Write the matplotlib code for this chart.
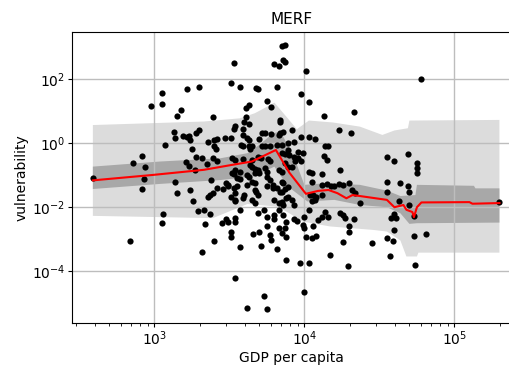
import numpy as np
import matplotlib
matplotlib.use("Agg")
import matplotlib.pyplot as plt

# log10 of GDP per capita and of vulnerability for each country
log_gdp = np.array([
    2.59, 2.84, 2.86, 2.92, 2.94, 2.93, 2.92, 2.98, 3.05, 3.05, 3.07, 3.06, 3.05,
    3.15, 3.18, 3.22, 3.13, 3.14, 3.19, 3.22, 3.23, 3.24, 3.28, 3.30, 3.25, 3.14,
    3.15, 3.24, 3.26, 3.29, 3.21, 3.23, 3.27, 3.28,
    3.30, 3.32, 3.33, 3.34, 3.32, 3.35, 3.39, 3.36, 3.40, 3.41, 3.39, 3.42, 3.47,
    3.51, 3.51, 3.53, 3.40, 3.42, 3.37, 3.36, 3.37, 3.39, 3.40, 3.45, 3.46, 3.49,
    3.51, 3.38, 3.48, 3.49, 3.42, 3.48, 3.49, 3.51, 3.51, 3.52, 3.52,
    3.57, 3.68, 3.69, 3.61, 3.61, 3.54, 3.53, 3.59, 3.60, 3.63, 3.63, 3.70, 3.62,
    3.63, 3.58, 3.59, 3.65, 3.59, 3.65, 3.72, 3.72, 3.71, 3.53, 3.55, 3.54, 3.54,
    3.59, 3.54, 3.54, 3.57, 3.57, 3.54, 3.62, 3.65, 3.67, 3.65, 3.67, 3.66, 3.69,
    3.70, 3.71, 3.62, 3.73, 3.73, 3.63, 3.64, 3.59, 3.54, 3.69, 3.54, 3.57, 3.53,
    3.64, 3.65, 3.67, 3.67, 3.69, 3.70, 3.55, 3.57, 3.62, 3.63, 3.54, 3.60, 3.67,
    3.68, 3.69, 3.74, 3.74,
    3.75, 3.78, 3.77, 3.78, 3.80, 3.83, 3.82, 3.84, 3.84, 3.84, 3.85, 3.87, 3.86,
    3.87, 3.92, 3.75, 3.75, 3.77, 3.78, 3.82, 3.80, 3.83, 3.85, 3.88, 3.88, 3.88,
    3.80, 3.83, 3.86, 3.88, 3.75, 3.79, 3.84, 3.76, 3.77, 3.74, 3.75, 3.75, 3.77,
    3.79, 3.80, 3.75, 3.82, 3.83, 3.86, 3.85, 3.89, 3.93, 3.85, 3.87, 3.89, 3.90,
    3.93, 3.96, 3.94, 3.96, 3.87, 3.89, 3.92, 3.83, 3.85, 3.85, 3.86, 3.82, 3.85,
    3.87, 3.89, 3.89, 3.92, 3.93, 3.85, 3.83, 3.86, 3.93, 3.95, 3.87,
    3.98, 4.03, 4.07, 4.14, 4.16, 3.98, 3.99, 4.13, 4.15, 4.03, 4.05, 4.05, 4.12,
    4.15, 4.18, 4.04, 4.06, 4.08, 4.12, 4.05, 4.07, 4.14, 4.12, 4.03, 4.00, 4.09,
    4.01, 3.98, 4.03, 4.13, 4.12, 3.97, 4.03, 4.00, 4.17, 4.00, 4.01, 4.05, 4.08,
    4.06, 3.99, 4.16,
    4.23, 4.31, 4.33, 4.24, 4.23, 4.26, 4.30, 4.32, 4.20, 4.34, 4.37, 4.24, 4.26,
    4.27, 4.33, 4.26, 4.29, 4.30, 4.30, 4.45, 4.57, 4.55, 4.59, 4.74, 4.73, 4.81,
    4.60, 4.58, 4.61, 4.60, 4.63, 4.70, 4.73, 4.55, 4.55, 4.64, 4.69, 4.70, 4.55,
    4.60, 4.69, 4.75, 4.75, 4.75, 4.78, 5.30,
])
log_vuln = np.array([
    -1.09, -3.07, -0.63, -0.39, -0.73, -1.13, -1.43, 1.17, 1.58, 1.23, -0.05, -2.22, -2.50,
    0.86, 1.04, 1.71, 0.36, 0.16, 0.23, 0.21, 0.23, 0.10, 0.33, 0.40, -0.19, -1.20,
    -1.54, -1.46, -1.82, -2.11, -0.60, -0.71, -0.83, -0.42,
    1.75, -0.45, -2.08, -2.53, -3.41, -0.65, 0.81, 0.05, -0.10, -0.19, -0.47, 0.13, 0.16,
    0.18, 1.88, 2.50, 0.10, -0.54, -2.22, -1.67, -1.61, -1.56, -3.07, -2.50, -1.44, -1.30,
    -1.67, -1.15, -1.25, -1.33, -1.41, -2.38, -2.45, -2.76, -2.94, -0.47, -0.94,
    1.77, 1.74, 1.70, 1.09, 0.81, 0.55, 0.44, 0.44, 0.65, 1.19, 0.59, 0.14, 0.16,
    0.10, -0.05, -0.10, -0.07, -0.50, -0.52, -0.10, 0.33, -0.47, -1.41, -1.35, -1.77, -1.82,
    -1.72, -2.34, -2.45, -3.23, -2.10, -4.22, -1.30, -1.20, -1.25, -1.77, -1.88, -2.84, -2.19,
    -2.79, -3.20, -5.14, -4.76, -2.10, -0.08, -0.19, 0.26, -0.52, -0.42, -0.83, -0.89, -0.96,
    -0.68, -0.73, -0.81, -0.92, -0.83, -0.94, -1.09, -1.13, -0.99, -1.04, -1.56, -1.61, -1.46,
    -1.51, -1.61, -0.08, 0.31,
    1.33, 1.13, -0.08, 0.28, 2.47, 2.43, 1.77, 0.73, 0.65, 0.33, 3.05, 3.07, 2.60,
    2.53, 0.42, -5.19, -2.58, -2.86, -3.02, -3.30, -2.38, -2.66, -2.81, -2.92, -3.65, -2.45,
    -1.77, -1.88, -1.93, -1.72, -1.35, -1.41, -1.51, -0.50, -0.57, -0.78, -0.89, -1.04, -1.15,
    -1.30, -2.24, -2.31, -0.05, 0.26, 0.36, -0.05, 0.00, 0.05, -0.29, -0.33, -0.21, -0.36,
    -0.42, -0.47, -0.57, -0.26, -0.63, -0.73, -0.75, -0.83, -0.89, -1.20, -1.25, -1.41, -1.51,
    -1.44, -1.38, -1.67, -1.77, -1.93, -1.85, -2.08, -2.24, -2.38, -2.42, -2.64,
    0.21, 0.21, 0.13, -0.10, -0.10, -0.57, -0.31, -0.40, -0.52, -0.89, -0.94, -1.20, -1.30,
    -1.27, -1.33, -1.61, -1.61, -1.67, -1.61, -1.82, -1.77, -2.14, -2.31, -2.08, -2.31, -2.40,
    2.25, 1.55, 1.30, 0.85, -0.96, -3.75, -3.73, -4.64, -3.50, -2.64, -2.92, -2.97, -2.90,
    -2.60, -2.55, -2.32,
    0.42, 0.31, 0.99, -0.83, -1.27, -1.30, -1.25, -1.46, -1.35, -1.56, -1.88, -2.19, -2.24,
    -2.34, -2.38, -3.08, -3.85, -2.60, -2.76, -3.13, -3.52, -2.97, -3.07, -3.80, -2.89, -2.83,
    -2.71, -2.34, -2.34, -2.21, -1.82, -1.93, -2.27, -1.20, -1.51, -1.25, -1.35, -1.51, -0.42,
    -0.54, -0.34, -0.63, -0.78, -0.92, 2.02, -1.85,
])

# MERF prediction (median) along GDP per capita
curve_log_gdp = np.array([2.59, 2.99, 3.33, 3.50, 3.65, 3.81, 3.90, 4.01, 4.09, 4.16,
                          4.22, 4.28, 4.32, 4.37, 4.55, 4.60, 4.66, 4.68, 4.72, 4.73,
                          4.75, 4.78, 5.10, 5.12, 5.30])
curve_log_vuln = np.array([-1.16, -0.99, -0.83, -0.69, -0.57, -0.21, -0.92, -1.58, -1.49, -1.46,
                           -1.56, -1.72, -1.62, -1.65, -1.77, -2.00, -1.93, -2.08, -2.15, -2.31,
                           -2.00, -1.85, -1.84, -1.89, -1.87])

# outer prediction interval
outer_up_x = np.array([2.59, 3.33, 3.57, 3.67, 3.73, 3.80, 3.88, 3.95, 4.03, 4.19,
                       4.37, 4.52, 4.60, 4.69, 4.70, 5.30])
outer_up_y = np.array([0.57, 0.68, 0.78, 0.94, 1.09, 1.27, 0.83, 0.44, 0.71, 0.65,
                       0.52, 0.26, 0.40, 0.47, 0.71, 0.73])
outer_lo_x = np.array([2.59, 3.39, 3.62, 3.82, 3.90, 3.99, 4.17, 4.46, 4.55, 4.64,
                       4.68, 4.75, 4.76, 5.30])
outer_lo_y = np.array([-2.27, -2.34, -1.90, -1.98, -2.19, -2.45, -2.60, -2.71, -2.76, -3.04,
                       -3.54, -3.54, -3.42, -3.42])

# inner prediction interval
inner_up_x = np.array([2.59, 3.04, 3.44, 3.62, 3.70, 3.79, 3.84, 3.93, 4.00, 4.14,
                       4.37, 4.55, 4.64, 4.74, 4.75, 5.13, 5.14, 5.30])
inner_up_y = np.array([-0.73, -0.57, -0.47, -0.31, -0.05, 0.31, 0.37, -0.42, -1.30, -1.25,
                       -1.30, -1.48, -1.65, -1.62, -1.30, -1.33, -1.41, -1.41])
inner_lo_x = np.array([2.59, 3.04, 3.44, 3.66, 3.80, 3.89, 4.02, 4.20, 4.37, 4.55,
                       4.64, 4.70, 4.75, 5.30])
inner_lo_y = np.array([-1.43, -1.27, -1.15, -1.04, -0.73, -1.35, -1.82, -1.77, -1.93, -2.00,
                       -2.19, -2.52, -2.50, -2.48])

gdp = 10 ** log_gdp
vuln = 10 ** log_vuln


def band(ax, up_x, up_y, lo_x, lo_y, color):
    xs = np.concatenate([up_x, lo_x[::-1]])
    ys = np.concatenate([up_y, lo_y[::-1]])
    ax.fill(10 ** xs, 10 ** ys, color=color, lw=0, zorder=1)


fig = plt.figure(figsize=(5.1, 3.69), dpi=100)
ax = fig.add_axes([0.1412, 0.1255, 0.8616, 0.787])
ax.set_xscale("log")
ax.set_yscale("log")

band(ax, outer_up_x, outer_up_y, outer_lo_x, outer_lo_y, "#dcdcdc")
band(ax, inner_up_x, inner_up_y, inner_lo_x, inner_lo_y, "#a8a8a8")

ax.scatter(gdp, vuln, s=20, color="black", zorder=2.5, linewidths=0)
ax.plot(10 ** curve_log_gdp, 10 ** curve_log_vuln, color="red", lw=1.5, zorder=3)

ax.set_xlim(10 ** 2.451, 10 ** 5.38)
ax.set_ylim(10 ** -5.61, 10 ** 3.47)
ax.set_yticks([1e-4, 1e-2, 1, 1e2])
ax.yaxis.set_minor_locator(matplotlib.ticker.NullLocator())
ax.set_xticks([1e3, 1e4, 1e5])
ax.grid(True, which="major", color="#bdbdbd", lw=1)
ax.tick_params(which="major", length=3, pad=2)
ax.tick_params(which="minor", length=2)

ax.set_title("MERF", fontsize=11)
ax.set_xlabel("GDP per capita", fontsize=10, labelpad=2)
ax.set_ylabel("vulnerability", fontsize=10, labelpad=2)

fig.savefig("out.png", dpi=100)
